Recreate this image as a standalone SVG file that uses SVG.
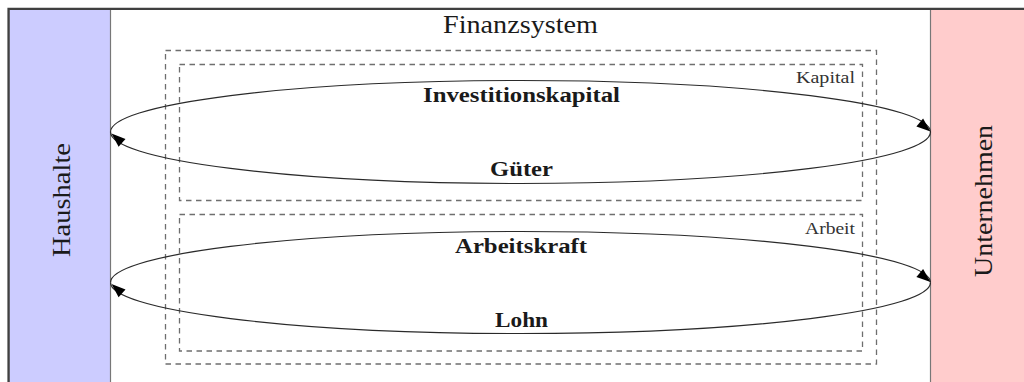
<svg xmlns="http://www.w3.org/2000/svg" width="1024" height="382" viewBox="0 0 1024 382">
  <style>
    .serif { font-family: "Liberation Serif", "DejaVu Serif", serif; fill: #1a1a1a; }
    .big { font-size: 25px; }
    .side { font-size: 26px; }
    .lbl { font-size: 20px; font-weight: bold; }
    .small { font-size: 16px; fill: #333; }
    .dash { fill: none; stroke: #6e6e6e; stroke-width: 1.3; stroke-dasharray: 5.5 4.5; }
    .flow { fill: none; stroke: #2a2a2a; stroke-width: 1.2; }
    .head { fill: #000; stroke: none; }
  </style>
  <rect x="0" y="0" width="1024" height="382" fill="#fff"/>

  <g id="haushalte">
    <rect x="9" y="9" width="101.5" height="380" fill="#ccccff" stroke="#777" stroke-width="1.2"/>
    <text class="serif side" transform="translate(70,200) rotate(-90)" text-anchor="middle" textLength="114" lengthAdjust="spacingAndGlyphs">Haushalte</text>
  </g>

  <g id="unternehmen">
    <rect x="930.5" y="9" width="100" height="380" fill="#ffcccc" stroke="#777" stroke-width="1.2"/>
    <text class="serif side" transform="translate(992,201) rotate(-90)" text-anchor="middle" textLength="152" lengthAdjust="spacingAndGlyphs">Unternehmen</text>
  </g>

  <g id="frame">
    <path d="M8.5,390 V8.8 H1030" fill="none" stroke="#404040" stroke-width="2.2"/>
  </g>

  <g id="finanzsystem">
    <text class="serif big" x="520.5" y="33" text-anchor="middle" textLength="155" lengthAdjust="spacingAndGlyphs">Finanzsystem</text>
    <rect class="dash" x="165.5" y="50.5" width="711" height="313.5"/>
  </g>

  <g id="kapital">
    <rect class="dash" x="179.5" y="64.5" width="683" height="136"/>
    <text class="serif small" x="855" y="83" text-anchor="end" textLength="59" lengthAdjust="spacingAndGlyphs">Kapital</text>
  </g>

  <g id="arbeit">
    <rect class="dash" x="179.5" y="214.5" width="683" height="136.5"/>
    <text class="serif small" x="855" y="234" text-anchor="end" textLength="50" lengthAdjust="spacingAndGlyphs">Arbeit</text>
  </g>

  <g id="connectors">
    <path class="flow" d="M110.5,132 A410,51.5 0 0 1 930.5,132"/>
    <path class="head" d="M930.5,131.5 L916.4,126.4 L923.1,118.4 Z"/>
    <path class="flow" d="M930.5,132 A410,51.5 0 0 1 110.5,132"/>
    <path class="head" d="M111.5,133.5 L125.5,138.9 L118.6,146.8 Z"/>

    <path class="flow" d="M110.5,282.5 A410,51 0 0 1 930.5,282.5"/>
    <path class="head" d="M930.5,282 L916.4,276.9 L923.1,268.9 Z"/>
    <path class="flow" d="M930.5,282.5 A410,51 0 0 1 110.5,282.5"/>
    <path class="head" d="M111.5,284 L125.5,289.4 L118.6,297.3 Z"/>

    <text class="serif lbl" x="521.5" y="102" text-anchor="middle" textLength="197" lengthAdjust="spacingAndGlyphs">Investitionskapital</text>
    <text class="serif lbl" x="521.5" y="176" text-anchor="middle" textLength="63" lengthAdjust="spacingAndGlyphs">Güter</text>
    <text class="serif lbl" x="521" y="253" text-anchor="middle" textLength="132" lengthAdjust="spacingAndGlyphs">Arbeitskraft</text>
    <text class="serif lbl" x="521.5" y="327" text-anchor="middle" textLength="53" lengthAdjust="spacingAndGlyphs">Lohn</text>
  </g>
</svg>
